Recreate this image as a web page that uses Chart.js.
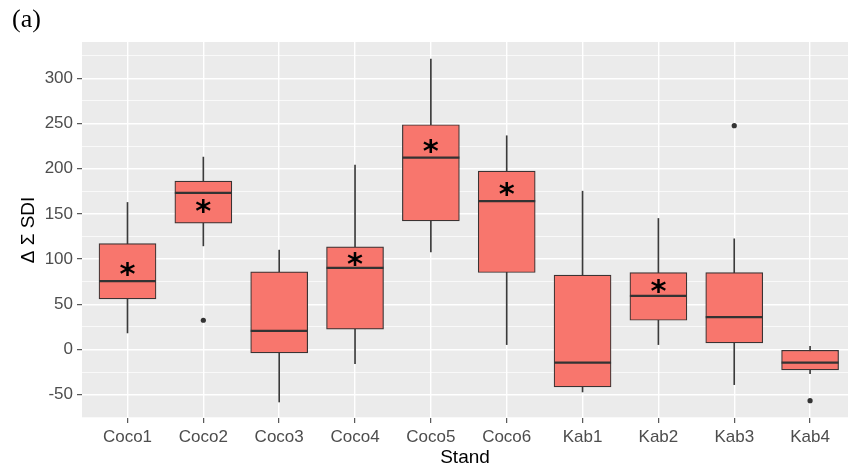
<!DOCTYPE html>
<html>
<head>
<meta charset="utf-8">
<script src="https://cdn.jsdelivr.net/npm/chart.js@4/dist/chart.umd.min.js"></script>
<style>
  html, body { margin: 0; padding: 0; background: #ffffff; }
  #wrap { width: 848px; height: 473px; }
</style>
</head>
<body>
<div id="wrap"><canvas id="c" width="848" height="473"></canvas></div>
<script>
// ---- data ----
const categories  = ['Coco1', 'Coco2', 'Coco3', 'Coco4', 'Coco5', 'Coco6', 'Kab1', 'Kab2', 'Kab3', 'Kab4'];
const whiskerLow  = [18.4, 114.7, -58.0, -15.5, 108.0,   5.5, -46.9,   5.5, -38.8, -26.6];
const q1          = [56.0, 139.8,  -3.7,  22.5, 142.4,  85.2, -41.4,  32.4,   7.3, -22.5];
const medianVals  = [75.6, 173.4,  20.6,  90.3, 212.2, 164.2, -14.4,  59.4,  35.8, -14.4];
const q3          = [117.3, 186.3, 86.0, 113.6, 248.7, 197.4,  82.3,  85.2,  85.2,   0.0];
const whiskerHigh = [162.7, 212.9, 110.0, 204.0, 321.4, 236.5, 175.2, 145.0, 122.5,   3.6];
const outlierStand = ['Coco2', 'Kab3', 'Kab4'];
const outlierValue = [32.4, 247.6, -56.5];
const markStand = ['Coco1', 'Coco2', 'Coco4', 'Coco5', 'Coco6', 'Kab2'];
const markValue = [88.6, 157.9, 100.0, 224.3, 177.5, 69.3];
const yMajorTicks = [-50, 0, 50, 100, 150, 200, 250, 300];
const yMinorTicks = [-75, -25, 25, 75, 125, 175, 225, 275, 325];

// ---- build datasets ----
const idx = s => categories.indexOf(s);
const whiskerData = categories.map((c, i) => ({ x: i, y: [whiskerLow[i], whiskerHigh[i]] }));
const boxData = categories.map((c, i) => ({ x: i, y: [q1[i], q3[i]] }));
const medData = categories.map((c, i) => ({ x: i, y: medianVals[i] }));
const outData = outlierStand.map((s, k) => ({ x: idx(s), y: outlierValue[k] }));
const yTickValues = yMajorTicks.concat(yMinorTicks).sort((a, b) => a - b);

const panelBg = {
  id: 'panelBg',
  beforeDraw(chart) {
    const { ctx, chartArea: a } = chart;
    ctx.save();
    ctx.fillStyle = '#EBEBEB';
    ctx.fillRect(a.left, a.top, a.right - a.left, a.bottom - a.top);
    ctx.restore();
  }
};

const asterisks = {
  id: 'asterisks',
  afterDatasetsDraw(chart) {
    const { ctx, scales } = chart;
    ctx.save();
    const fam = '"DejaVu Sans", "Liberation Sans", sans-serif';
    ctx.font = 'bold 100px ' + fam;
    const m0 = ctx.measureText('*');
    const w0 = m0.actualBoundingBoxLeft + m0.actualBoundingBoxRight;
    const size = 15 / w0 * 100;
    ctx.font = 'bold ' + size.toFixed(1) + 'px ' + fam;
    ctx.fillStyle = '#000000';
    ctx.textAlign = 'center';
    ctx.textBaseline = 'alphabetic';
    const m = ctx.measureText('*');
    const shift = (m.actualBoundingBoxAscent - m.actualBoundingBoxDescent) / 2;
    const dx = (m.actualBoundingBoxLeft - m.actualBoundingBoxRight) / 2;
    markStand.forEach((s, k) => {
      const x = scales.x.getPixelForValue(idx(s));
      const y = scales.y.getPixelForValue(markValue[k]);
      ctx.fillText('*', x + dx, y + shift);
    });
    ctx.restore();
  }
};

new Chart(document.getElementById('c'), {
  type: 'bar',
  data: {
    datasets: [
      {
        type: 'bar', label: 'whisker', data: whiskerData, grouped: false,
        barThickness: 1, backgroundColor: '#3a3a3a', borderWidth: 0, order: 4
      },
      {
        type: 'bar', label: 'box', data: boxData, grouped: false,
        barThickness: 57, backgroundColor: '#F8766D', borderColor: '#3b3333',
        borderWidth: 1.2, borderSkipped: false, order: 3
      },
      {
        type: 'line', label: 'median', data: medData, showLine: false,
        pointStyle: 'line', pointRadius: 28.5, pointHoverRadius: 28.5,
        borderColor: '#333333', pointBorderColor: '#333333', pointBorderWidth: 2.2, order: 2
      },
      {
        type: 'line', label: 'outlier', data: outData, showLine: false,
        pointStyle: 'circle', pointRadius: 2.6, backgroundColor: '#333333',
        pointBackgroundColor: '#333333', pointBorderWidth: 0, order: 1
      }
    ]
  },
  options: {
    responsive: false,
    animation: false,
    events: [],
    layout: { autoPadding: false, padding: { left: 12, right: 0, top: 0, bottom: 0 } },
    plugins: {
      legend: { display: false },
      tooltip: { enabled: false },
      title: {
        display: true, text: '(a)', align: 'start', color: '#000000',
        font: { family: '"Liberation Serif", "Times New Roman", serif', size: 26, weight: 'normal', lineHeight: 1 },
        padding: { top: 7, bottom: 9 }
      }
    },
    scales: {
      x: {
        type: 'linear', min: -0.6, max: 9.5, offset: false,
        afterBuildTicks: s => { s.ticks = categories.map((c, i) => ({ value: i })); },
        afterFit: s => { s.height = 55; s.paddingLeft = 0; s.paddingRight = 0; },
        ticks: {
          autoSkip: false, maxRotation: 0, color: '#4D4D4D', padding: 4,
          font: { family: '"Liberation Sans", Arial, sans-serif', size: 17 },
          callback: v => categories[v]
        },
        grid: { color: '#FFFFFF', lineWidth: 1.4, offset: false, drawTicks: true, tickLength: 5, tickColor: '#333333', tickWidth: 1 },
        border: { display: false },
        title: {
          display: true, text: 'Stand', color: '#000000',
          font: { family: '"Liberation Sans", Arial, sans-serif', size: 19 },
          padding: { top: 0, bottom: 4 }
        }
      },
      y: {
        type: 'linear', min: -75.7, max: 340.2,
        afterBuildTicks: s => { s.ticks = yTickValues.map(v => ({ value: v })); },
        afterFit: s => { s.width = 70; s.paddingTop = 0; s.paddingBottom = 0; },
        ticks: {
          color: '#4D4D4D', padding: 4,
          font: { family: '"Liberation Sans", Arial, sans-serif', size: 17 },
          callback: v => (yMajorTicks.includes(v) ? String(v) : '')
        },
        grid: {
          color: '#FFFFFF',
          lineWidth: c => (yMajorTicks.includes(c.tick.value) ? 1.4 : 0.7),
          tickColor: c => (yMajorTicks.includes(c.tick.value) ? '#333333' : 'rgba(0,0,0,0)'),
          drawTicks: true, tickLength: 5, tickWidth: 1
        },
        border: { display: false },
        title: {
          display: true, text: 'Δ Σ SDI', color: '#000000',
          font: { family: '"Liberation Sans", Arial, sans-serif', size: 19 },
          padding: { top: 5, bottom: 0 }
        }
      }
    }
  },
  plugins: [panelBg, asterisks]
});
</script>
</body>
</html>
